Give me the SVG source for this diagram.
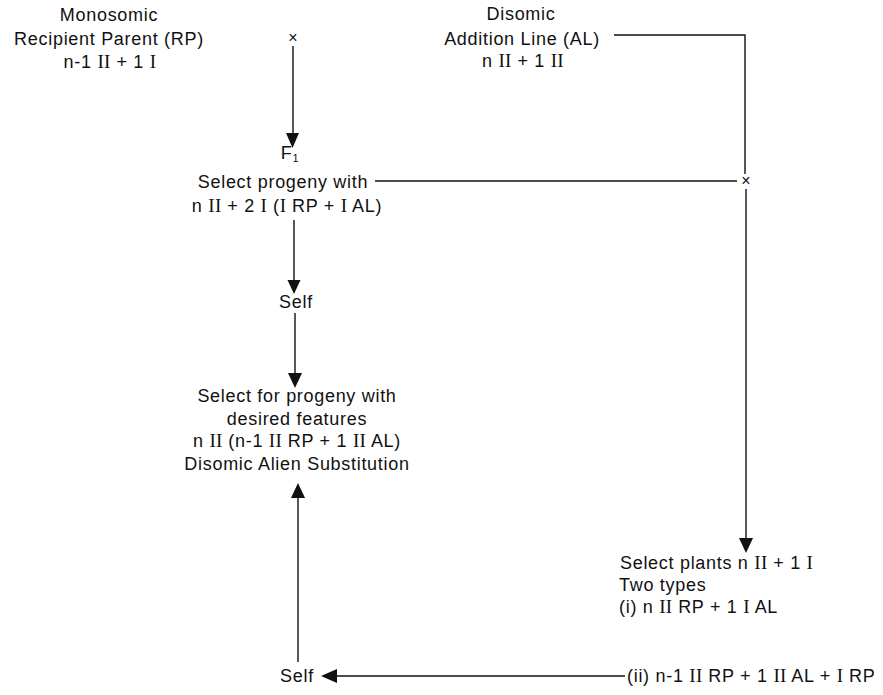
<svg xmlns="http://www.w3.org/2000/svg" width="883" height="695" viewBox="0 0 883 695">
<style>
text{font-family:"Liberation Sans",Arial,sans-serif;font-size:18px;letter-spacing:0.7px;fill:#111}
.r{font-family:"Liberation Serif","Times New Roman",serif;font-size:19px;letter-spacing:0.3px}
.c{text-anchor:middle}
.x{font-size:16px;letter-spacing:0}
.ln{stroke:#111;stroke-width:1.4;fill:none}
.ah{fill:#111}
</style>
<rect width="883" height="695" fill="#fff"/>
<g id="connectors">
<path class="ln" d="M293,46 V136"/>
<path class="ah" d="M286,133 L299,133 L292.5,148 Z"/>
<path class="ln" d="M375,181 H737"/>
<path class="ln" d="M614,35 H745 V174"/>
<path class="ln" d="M746,189 V540"/>
<path class="ah" d="M739,538 L753,538 L746,553 Z"/>
<path class="ln" d="M294,220 V283"/>
<path class="ah" d="M287.5,280 L300.5,280 L294,294 Z"/>
<path class="ln" d="M295,313 V375"/>
<path class="ah" d="M288,373 L302,373 L295,388 Z"/>
<path class="ln" d="M298,662 V496"/>
<path class="ah" d="M291,498 L305,498 L298,483 Z"/>
<path class="ln" d="M625,676 H334"/>
<path class="ah" d="M337,669 L337,683 L321,676 Z"/>
</g>
<g id="cross1"><text class="c x" x="293" y="43">×</text></g>
<g id="cross2"><text class="c x" x="746" y="186">×</text></g>
<g id="rp">
<text class="c" x="109" y="21">Monosomic</text>
<text class="c" x="109" y="45">Recipient Parent (RP)</text>
<text class="c" x="110" y="68">n-1 <tspan class="r">II</tspan> + 1 <tspan class="r">I</tspan></text>
</g>
<g id="al">
<text class="c" x="521" y="20">Disomic</text>
<text class="c" x="522" y="45">Addition Line (AL)</text>
<text class="c" x="523" y="67">n <tspan class="r">II</tspan> + 1 <tspan class="r">II</tspan></text>
</g>
<g id="f1">
<text class="c" x="290" y="159">F<tspan style="font-size:11px" dy="3">1</tspan></text>
<text class="c" x="283" y="188">Select progeny with</text>
<text class="c" x="287" y="212">n <tspan class="r">II</tspan> + 2 <tspan class="r">I</tspan> (<tspan class="r">I</tspan> RP + <tspan class="r">I</tspan> AL)</text>
</g>
<g id="self1"><text class="c" x="296" y="308">Self</text></g>
<g id="substitution">
<text class="c" x="297" y="402">Select for progeny with</text>
<text class="c" x="297" y="425">desired features</text>
<text class="c" x="297" y="447">n <tspan class="r">II</tspan> (n-1 <tspan class="r">II</tspan> RP + 1 <tspan class="r">II</tspan> AL)</text>
<text class="c" x="297" y="470">Disomic Alien Substitution</text>
</g>
<g id="plants">
<text x="620" y="569">Select plants n <tspan class="r">II</tspan> + 1 <tspan class="r">I</tspan></text>
<text x="619" y="591">Two types</text>
<text x="619" y="613">(i) n <tspan class="r">II</tspan> RP + 1 <tspan class="r">I</tspan> AL</text>
</g>
<g id="type2"><text x="627" y="682">(ii) n-1 <tspan class="r">II</tspan> RP + 1 <tspan class="r">II</tspan> AL + <tspan class="r">I</tspan> RP</text></g>
<g id="self2"><text class="c" x="297" y="682">Self</text></g>
</svg>
